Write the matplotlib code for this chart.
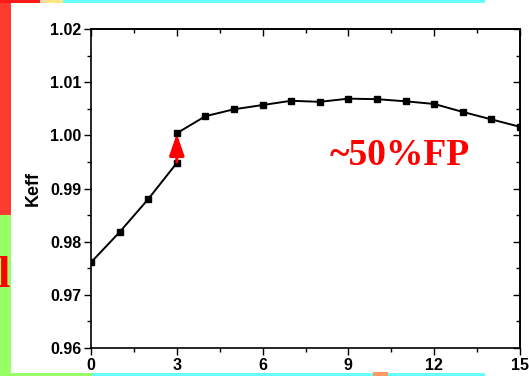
import matplotlib
matplotlib.use("Agg")
import matplotlib.pyplot as plt
from matplotlib.patches import Rectangle
from matplotlib.ticker import MultipleLocator, FormatStrFormatter

# Data
x_before = [0, 1, 2, 3]
k_before = [0.9761, 0.9818, 0.9880, 0.9948]
x_after = [3, 4, 5, 6, 7, 8, 9, 10, 11, 12, 13, 14, 15]
k_after = [1.0004, 1.0036, 1.0049, 1.0057, 1.0065, 1.0063, 1.0069, 1.0068,
           1.0064, 1.0059, 1.0044, 1.0030, 1.0016]
arrow_x = 3
annotation = "~50%FP"
ylabel = "Keff"

fig = plt.figure(figsize=(5.29, 3.76), dpi=100)
W, H = 529, 376

def frect(x0, y0, w, h, color):
    fig.patches.append(Rectangle((x0 / W, 1 - (y0 + h) / H), w / W, h / H,
                                 transform=fig.transFigure, color=color,
                                 zorder=0, lw=0))

# decorative background strips from the slide
frect(0, 0, 11, 215, "#ff3b30")
frect(0, 215, 11, 161, "#99ff66")
frect(0, 0, 40, 3, "#ff1a1a")
frect(40, 0, 5, 3, "#ffd0b0")
frect(45, 0, 18, 3, "#ffe680")
frect(63, 0, 422, 3, "#66ffff")
frect(11, 373, 81, 3, "#99ff66")
frect(92, 373, 393, 3, "#66ffff")
frect(373, 372, 15, 4, "#ff9966")
fig.text(-3 / W, 1 - 287 / H, "l", color="red", fontsize=32,
         family="Liberation Serif", fontweight="bold", va="baseline")

ax = fig.add_axes([91 / W, 1 - 348 / H, (520 - 91) / W, (348 - 29) / H])

ax.plot(x_before, k_before, color="black", lw=1.4, marker="s", ms=5, zorder=3)
ax.plot(x_after, k_after, color="black", lw=1.4, marker="s", ms=5, zorder=3)

ax.annotate("", xy=(arrow_x, k_after[0] - 0.0001), xytext=(arrow_x, k_before[-1] + 0.0002),
            arrowprops=dict(arrowstyle="-|>,head_length=1.3,head_width=0.45",
                            color="red", lw=2.2, mutation_scale=10,
                            shrinkA=0, shrinkB=0), zorder=4)

ax.text(10.8, 0.9963, annotation, color="red", fontsize=27,
        family="Liberation Serif", fontweight="bold", ha="center", va="center")

ax.set_xlim(0, 15)
ax.set_ylim(0.96, 1.02)
ax.xaxis.set_major_locator(MultipleLocator(3))
ax.xaxis.set_minor_locator(MultipleLocator(1.5))
ax.yaxis.set_major_locator(MultipleLocator(0.01))
ax.yaxis.set_minor_locator(MultipleLocator(0.005))
ax.yaxis.set_major_formatter(FormatStrFormatter("%.2f"))

ax.tick_params(which="both", bottom=True, left=True, top=False, right=False,
               direction="out", width=1, colors="black")
ax.tick_params(which="major", length=5)
ax.tick_params(which="minor", length=3)
for lab in ax.get_xticklabels() + ax.get_yticklabels():
    lab.set_fontfamily("Liberation Sans")
    lab.set_fontweight("bold")
    lab.set_fontsize(11.5)
ax.tick_params(axis="x", pad=2)
ax.tick_params(axis="y", pad=2)

# inward ticks on top and right (Origin style)
sec_x = ax.secondary_xaxis("top")
sec_x.xaxis.set_major_locator(MultipleLocator(3))
sec_x.xaxis.set_minor_locator(MultipleLocator(1.5))
sec_x.tick_params(which="both", direction="in", labeltop=False, width=1)
sec_x.tick_params(which="major", length=5)
sec_x.tick_params(which="minor", length=3)
sec_y = ax.secondary_yaxis("right")
sec_y.yaxis.set_major_locator(MultipleLocator(0.01))
sec_y.yaxis.set_minor_locator(MultipleLocator(0.005))
sec_y.tick_params(which="both", direction="in", labelright=False, width=1)
sec_y.tick_params(which="major", length=5)
sec_y.tick_params(which="minor", length=3)

for s in ax.spines.values():
    s.set_linewidth(1.2)
for s in sec_x.spines.values():
    s.set_linewidth(1.2)
for s in sec_y.spines.values():
    s.set_linewidth(1.2)

ax.set_ylabel(ylabel, fontfamily="Liberation Sans", fontweight="bold",
              fontsize=13, labelpad=6)

fig.savefig("out.png", dpi=100)
